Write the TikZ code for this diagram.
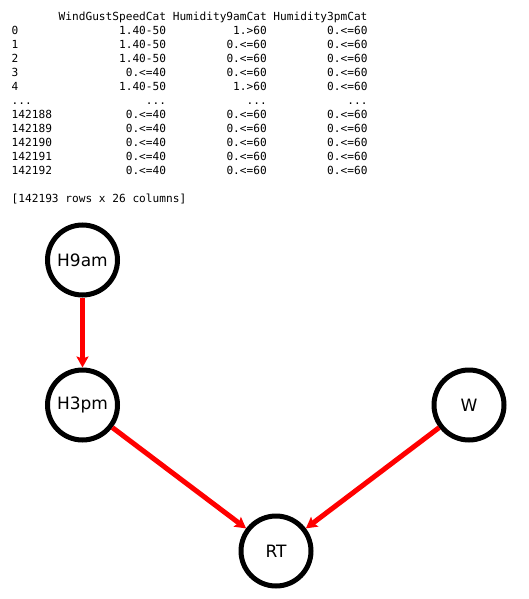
\documentclass[tikz,border=0pt]{standalone}
\usepackage{fontspec}
\setmainfont{DejaVu Sans}
\setmonofont{DejaVu Sans Mono}
\usetikzlibrary{arrows.meta}
\begin{document}
\begin{tikzpicture}[x=1pt,y=-1pt,
  var/.style={circle,draw=black,line width=5pt,minimum size=70pt,inner sep=0pt,
              outer sep=2.5pt,fill=white,font=\fontsize{17}{20}\selectfont},
  edge/.style={draw=red,line width=5pt,
               -{Stealth[length=11pt,width=12pt,inset=2pt]}}]
\useasboundingbox (0,0) rectangle (529,599);

% data frame printout
\node[anchor=base west,inner sep=0pt] (df) at (11.5,21) {%
  \ttfamily\fontsize{11.15}{14}\selectfont
  \begin{tabular}[t]{@{}l@{\hphantom{0}}r@{\hphantom{0}}r@{\hphantom{0}}r@{}}
         & WindGustSpeedCat & Humidity9amCat & Humidity3pmCat\\
  0      & 1.40-50 & 1.>60  & 0.<=60\\
  1      & 1.40-50 & 0.<=60 & 0.<=60\\
  2      & 1.40-50 & 0.<=60 & 0.<=60\\
  3      & 0.<=40  & 0.<=60 & 0.<=60\\
  4      & 1.40-50 & 1.>60  & 0.<=60\\
  ...    & ...     & ...    & ...\\
  142188 & 0.<=40  & 0.<=60 & 0.<=60\\
  142189 & 0.<=40  & 0.<=60 & 0.<=60\\
  142190 & 0.<=40  & 0.<=60 & 0.<=60\\
  142191 & 0.<=40  & 0.<=60 & 0.<=60\\
  142192 & 0.<=40  & 0.<=60 & 0.<=60\\
  \multicolumn{4}{@{}l}{}\\
  \multicolumn{4}{@{}l}{[142193 rows x 26 columns]}
  \end{tabular}};

% network
\node[var] (h9) at (82.5,260) {H9am};
\node[var] (h3) at (82.5,405) {H3pm};
\node[var] (w)  at (469,405) {W};
\node[var] (rt) at (276,551) {RT};

\draw[edge] (h9) -- (h3);
\draw[edge] (h3) -- (rt);
\draw[edge] (w) -- (rt);
\end{tikzpicture}
\end{document}
